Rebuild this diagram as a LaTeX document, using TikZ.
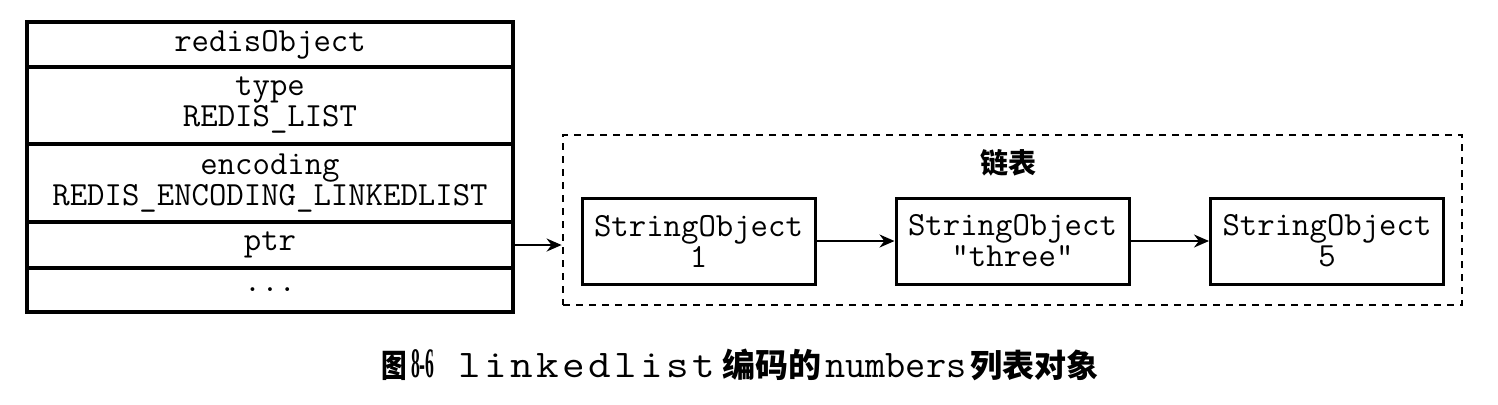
\documentclass[tikz,border=0pt]{standalone}
\usepackage{fontspec}
\setmainfont{Liberation Serif}
\newfontfamily\cjk{Noto Sans CJK SC}
\usetikzlibrary{arrows.meta}
\makeatletter
\newcommand\spacedword[2]{\@tfor\sp@ch:=#2\do{\sp@ch\kern#1}}
\makeatother
\newcommand\tabf{\ttfamily\addfontfeature{FakeBold=2}\fontsize{16.9pt}{15.5pt}\selectfont}
\newcommand\capf{\ttfamily\addfontfeature{FakeBold=2}\fontsize{19.6pt}{19.6pt}\selectfont}
\newcommand\cjkf[1]{\cjk\bfseries\fontsize{#1}{#1}\selectfont}
\tikzset{
  row/.style={draw, line width=1.6pt, minimum width=243pt, inner sep=0pt, align=center, font=\tabf},
  sobj/.style={draw, line width=1.5pt, minimum width=116.5pt, minimum height=43pt, inner sep=0pt, align=center, font=\tabf},
  listbox/.style={draw, line width=1.4pt, dash pattern=on 3.5pt off 3pt, minimum width=449.5pt, minimum height=85pt, inner sep=0pt},
  link/.style={line width=1pt, -{Stealth[length=7.5pt,width=6.5pt]}},
}
\begin{document}
\begin{tikzpicture}[x=0.5pt,y=-0.5pt]
\useasboundingbox (0,0) rectangle (1498,404);
% redisObject table
\node[row, minimum height=22.5pt] (r0) at (270,44.5) {redisObject};
\node[row, minimum height=38.5pt] (r1) at (270,105.5) {type\\REDIS\_LIST};
\node[row, minimum height=39pt] (r2) at (270,183) {encoding\\REDIS\_ENCODING\_LINKEDLIST};
\node[row, minimum height=23pt] (r3) at (270,245) {ptr};
\node[row, minimum height=22pt] (r4) at (270,290) {...};
% linked list container
\node[listbox] (list) at (1012.5,220) {};
\node[font=\cjkf{14pt}, inner sep=0pt] (title) at (1008,163) {链表};
\node[sobj] (s1) at (698.5,241) {StringObject\\1};
\node[sobj] (s2) at (1012.5,241) {StringObject\\"three"};
\node[sobj] (s3) at (1327,241) {StringObject\\5};
% connectors
\draw[link] (r3.east) -- (list.west |- r3.east);
\draw[link] (s1.east) -- (s2.west);
\draw[link] (s2.east) -- (s3.west);
% caption
\node[anchor=base west, inner sep=0pt] (cap) at (381,377) {%
{\cjkf{16pt}\scalebox{0.8}[1]{图}}\kern2pt
{\bfseries\fontsize{21pt}{21pt}\selectfont\scalebox{0.42}[1]{8-6}}\kern12pt
{\capf\scalebox{1.12}[1]{\spacedword{1.5pt}{linkedlist}}}\kern2pt
{\cjkf{16.5pt}编码的}\kern2pt
{\capf numbers}\kern2pt
{\cjkf{16pt}列表对象}};
\end{tikzpicture}
\end{document}
